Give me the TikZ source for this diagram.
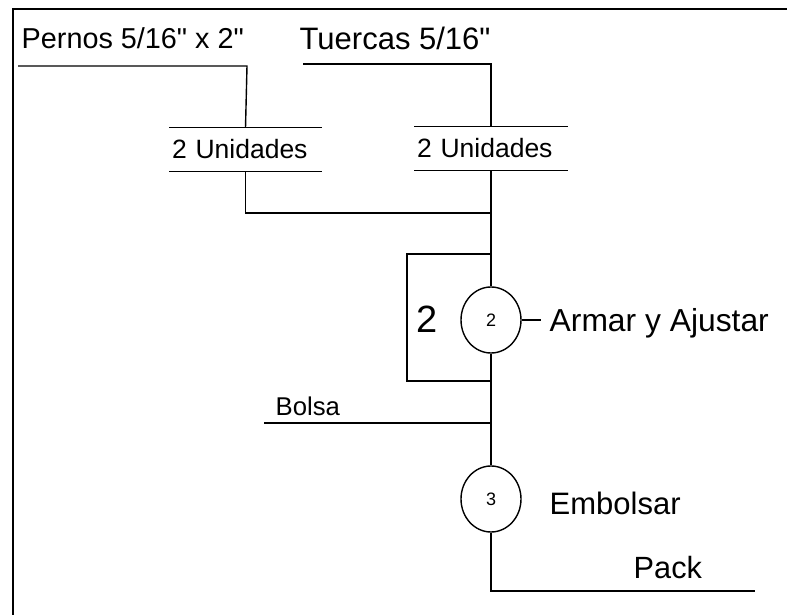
\documentclass[tikz,border=0pt]{standalone}
\usepackage{fontspec}
\setmainfont{Liberation Sans}[Ligatures=TeXOff]
\usetikzlibrary{shapes.geometric}

\tikzset{
    lbl/.style={inner sep=0pt, anchor=base west},
    qty/.style={inner sep=0pt, minimum height=42pt, text width=#1, align=left, font=\fontsize{26.5}{28}\selectfont},
    opcirc/.style={ellipse, draw, line width=1.4pt, inner sep=0pt, minimum width=60pt, minimum height=66pt, font=\fontsize{18}{20}\selectfont}
}

\begin{document}
\begin{tikzpicture}[x=1pt, y=-1pt, line width=1.4pt]
    \useasboundingbox (0,0) rectangle (787,615);
    \draw[line width=2pt] (12.5,615) -- (12.5,9.5) -- (787,9.5);

    \node[lbl, font=\fontsize{28.8}{30}\selectfont] (pernos) at (21,48.5) {Pernos 5/16" x 2"};
    \node[lbl, font=\fontsize{31}{33}\selectfont] (tuercas) at (299,50) {Tuercas 5/16"};
    \coordinate (pA) at (18,66);
    \coordinate (pB) at (247,66);
    \coordinate (tA) at (303,64);
    \coordinate (tB) at (491,64);

    \node[qty=147pt, minimum width=151pt] (u1) at (245.5,149.5) {2 Unidades};
    \node[qty=148pt, minimum width=152pt] (u2) at (491,148.5) {2 Unidades};
    \draw (u1.north west) -- (u1.north east) (u1.south west) -- (u1.south east);
    \draw (u2.north west) -- (u2.north east) (u2.south west) -- (u2.south east);

    \node[opcirc] (op2) at (491,320) {2};
    \node[opcirc] (op3) at (491,499) {3};
    \node[lbl, font=\fontsize{38}{40}\selectfont] (veces) at (416,332) {2};
    \node[lbl, font=\fontsize{31.8}{34}\selectfont] (armar) at (549,331) {Armar y Ajustar};
    \node[lbl, font=\fontsize{31}{33}\selectfont] (embolsar) at (549,514) {Embolsar};
    \node[lbl, font=\fontsize{25.7}{28}\selectfont] (bolsa) at (275,415) {Bolsa};
    \node[lbl, font=\fontsize{30.7}{33}\selectfont] (pack) at (633,578) {Pack};

    \coordinate (j1) at (491,213);
    \coordinate (rt) at (491,254);
    \coordinate (rb) at (491,381);
    \coordinate (bA) at (264,423);
    \coordinate (bB) at (491,423);
    \coordinate (pkE) at (755,591);

    \draw (pA) -- (pB) -- (u1.north);
    \draw (tA) -- (tB) -- (u2.north);
    \draw (u1.south) |- (j1);
    \draw (u2.south) -- (op2.north);
    \draw (rt) -- ++(-84,0) |- (rb);
    \draw (op2.east) -- ([xshift=-8pt]op2.east -| armar.west);
    \draw (op2.south) -- (op3.north);
    \draw (bA) -- (bB);
    \draw (op3.south) |- (pkE);
\end{tikzpicture}
\end{document}
